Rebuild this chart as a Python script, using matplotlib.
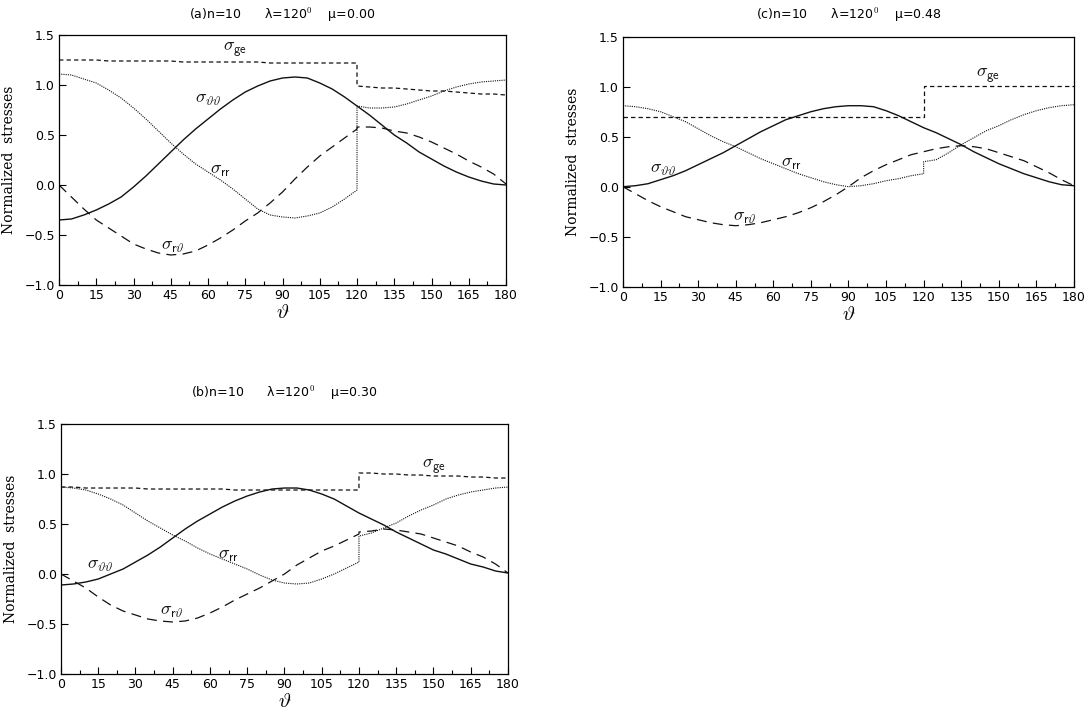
import matplotlib
matplotlib.use("Agg")
import matplotlib.pyplot as plt
import numpy as np

plt.rcParams['mathtext.fontset'] = 'cm'
plt.rcParams['font.family'] = 'DejaVu Sans'

# angle grid: the solution jumps at 120 deg, so both sides carry their own 120 point
theta_left = np.arange(0, 121, 5)
theta_right = np.arange(120, 181, 5)

# (a) mu = 0.00
a_tt_left = [-0.35, -0.34, -0.30, -0.25, -0.19, -0.12, -0.02, 0.09, 0.21, 0.33, 0.45, 0.56, 0.66,
             0.76, 0.85, 0.93, 0.99, 1.04, 1.07, 1.08, 1.07, 1.02, 0.96, 0.88, 0.79]
a_tt_right = [0.79, 0.70, 0.60, 0.50, 0.42, 0.33, 0.26, 0.19, 0.13, 0.08, 0.04, 0.01, 0.00]
a_rr_left = [1.11, 1.10, 1.06, 1.02, 0.95, 0.87, 0.77, 0.66, 0.54, 0.42, 0.31, 0.21, 0.13,
             0.05, -0.04, -0.14, -0.24, -0.30, -0.32, -0.33, -0.31, -0.28, -0.22, -0.14, -0.05]
a_rr_right = [0.79, 0.77, 0.77, 0.78, 0.81, 0.85, 0.89, 0.94, 0.98, 1.01, 1.03, 1.04, 1.05]
a_rt_left = [0.00, -0.12, -0.24, -0.35, -0.43, -0.51, -0.59, -0.64, -0.68, -0.70, -0.69, -0.66, -0.60,
             -0.53, -0.45, -0.36, -0.28, -0.18, -0.07, 0.06, 0.18, 0.29, 0.38, 0.47, 0.56]
a_rt_right = [0.58, 0.58, 0.57, 0.54, 0.52, 0.48, 0.43, 0.37, 0.31, 0.24, 0.18, 0.11, 0.01]
a_ge_left = [1.25, 1.25, 1.25, 1.25, 1.24, 1.24, 1.24, 1.24, 1.24, 1.24, 1.23, 1.23, 1.23,
             1.23, 1.23, 1.23, 1.23, 1.22, 1.22, 1.22, 1.22, 1.22, 1.22, 1.22, 1.22]
a_ge_right = [0.99, 0.98, 0.97, 0.97, 0.96, 0.95, 0.94, 0.94, 0.93, 0.92, 0.91, 0.91, 0.90]

# (b) mu = 0.30
b_tt_left = [-0.11, -0.10, -0.08, -0.05, 0.00, 0.05, 0.12, 0.19, 0.27, 0.36, 0.45, 0.53, 0.60,
             0.67, 0.73, 0.78, 0.82, 0.85, 0.86, 0.86, 0.84, 0.80, 0.75, 0.68, 0.61]
b_tt_right = [0.61, 0.55, 0.49, 0.42, 0.36, 0.30, 0.24, 0.20, 0.15, 0.10, 0.07, 0.03, 0.01]
b_rr_left = [0.87, 0.86, 0.84, 0.80, 0.75, 0.69, 0.61, 0.53, 0.46, 0.39, 0.33, 0.26, 0.20,
             0.15, 0.10, 0.05, -0.01, -0.06, -0.09, -0.10, -0.09, -0.05, 0.00, 0.06, 0.12]
b_rr_right = [0.38, 0.41, 0.46, 0.51, 0.58, 0.64, 0.69, 0.75, 0.79, 0.82, 0.84, 0.86, 0.87]
b_rt_left = [0.00, -0.07, -0.14, -0.23, -0.31, -0.37, -0.41, -0.45, -0.47, -0.48, -0.47, -0.44, -0.39,
             -0.33, -0.26, -0.20, -0.14, -0.07, 0.00, 0.09, 0.16, 0.23, 0.28, 0.34, 0.40]
b_rt_right = [0.42, 0.43, 0.45, 0.44, 0.42, 0.40, 0.36, 0.32, 0.28, 0.22, 0.17, 0.10, 0.01]
b_ge_left = [0.87, 0.87, 0.86, 0.86, 0.86, 0.86, 0.86, 0.85, 0.85, 0.85, 0.85, 0.85, 0.85,
             0.85, 0.84, 0.84, 0.84, 0.84, 0.84, 0.84, 0.84, 0.84, 0.84, 0.84, 0.84]
b_ge_right = [1.01, 1.01, 1.00, 1.00, 0.99, 0.99, 0.98, 0.98, 0.98, 0.97, 0.97, 0.96, 0.96]

# (c) mu = 0.48
c_tt_left = [0.00, 0.01, 0.03, 0.07, 0.11, 0.16, 0.22, 0.28, 0.34, 0.41, 0.48, 0.55, 0.61,
             0.67, 0.71, 0.75, 0.78, 0.80, 0.81, 0.81, 0.80, 0.76, 0.71, 0.65, 0.59]
c_tt_right = [0.59, 0.54, 0.48, 0.42, 0.35, 0.29, 0.23, 0.18, 0.13, 0.09, 0.05, 0.02, 0.01]
c_rr_left = [0.81, 0.80, 0.78, 0.75, 0.70, 0.65, 0.58, 0.51, 0.45, 0.40, 0.34, 0.28, 0.23,
             0.18, 0.13, 0.09, 0.05, 0.02, 0.00, 0.01, 0.03, 0.06, 0.08, 0.11, 0.13]
c_rr_right = [0.25, 0.27, 0.34, 0.42, 0.49, 0.56, 0.61, 0.67, 0.72, 0.76, 0.79, 0.81, 0.82]
c_rt_left = [0.00, -0.07, -0.14, -0.20, -0.25, -0.30, -0.33, -0.36, -0.38, -0.39, -0.38, -0.36, -0.33,
             -0.30, -0.26, -0.21, -0.15, -0.08, 0.00, 0.09, 0.16, 0.22, 0.27, 0.32, 0.35]
c_rt_right = [0.35, 0.38, 0.40, 0.41, 0.40, 0.38, 0.34, 0.30, 0.26, 0.20, 0.14, 0.07, 0.01]
c_ge_left = [0.70] * 25
c_ge_right = [1.01] * 13

panels = [
    ('(a)n=10      λ=120$^0$    μ=0.00', [0.0541, 0.6003, 0.4097, 0.3506], 15,
     (a_tt_left, a_tt_right), (a_rr_left, a_rr_right), (a_rt_left, a_rt_right), (a_ge_left, a_ge_right),
     [(70.8, 1.35), (60.1, 0.86), (64.8, 0.15), (46.0, -0.61)]),
    ('(c)n=10      λ=120$^0$    μ=0.48', [0.5710, 0.5979, 0.4134, 0.3506], 15,
     (c_tt_left, c_tt_right), (c_rr_left, c_rr_right), (c_rt_left, c_rt_right), (c_ge_left, c_ge_right),
     [(145.7, 1.11), (16.1, 0.18), (67.3, 0.24), (48.7, -0.30)]),
    ('(b)n=10      λ=120$^0$    μ=0.30', [0.0559, 0.0547, 0.4097, 0.3506], 393,
     (b_tt_left, b_tt_right), (b_rr_left, b_rr_right), (b_rt_left, b_rt_right), (b_ge_left, b_ge_right),
     [(150.0, 1.08), (15.7, 0.09), (67.4, 0.19), (44.8, -0.37)]),
]

names = [r'$\sigma_{\mathsf{ge}}$', r'$\sigma_{\vartheta\vartheta}$', r'$\sigma_{\mathsf{rr}}$',
         r'$\sigma_{\mathsf{r}\vartheta}$']

fig = plt.figure(figsize=(10.91, 7.13), dpi=100)

for title, rect, title_y, tt, rr, rt, ge, label_pos in panels:
    ax = fig.add_axes(rect)
    th = np.concatenate([theta_left, theta_right])
    ink = '#111111'
    ax.plot(th, np.concatenate(tt), color=ink, lw=1.0, solid_capstyle='butt')
    ax.plot(th, np.concatenate(rr), color=ink, lw=0.8, dashes=(1.0, 1.0))
    ax.plot(th, np.concatenate(rt), color=ink, lw=0.9, dashes=(8, 5))
    ax.plot(th, np.concatenate(ge), color=ink, lw=0.9, dashes=(3.5, 2.5))

    for name, (x, y) in zip(names, label_pos):
        ax.text(x, y, name, fontsize=13, ha='center', va='center', color=ink)

    ax.set_xlim(0, 180)
    ax.set_ylim(-1.0, 1.5)
    ax.set_xticks(np.arange(0, 181, 15))
    ax.set_xticks(np.arange(7.5, 180, 15), minor=True)
    ax.set_yticks(np.arange(-1.0, 1.51, 0.5))
    ax.set_yticklabels(['%.1f' % v if v >= 0 else '\u2212%.1f' % -v for v in np.arange(-1.0, 1.51, 0.5)])
    ax.tick_params(which='major', direction='in', length=5, width=0.8, labelsize=9, pad=3)
    ax.tick_params(which='minor', direction='in', length=3, width=0.8)
    for s in ax.spines.values():
        s.set_linewidth(0.9)
    ax.set_xlabel(r'$\vartheta$', fontsize=15, labelpad=0)
    ax.set_ylabel('Normalized  stresses', family='DejaVu Serif', fontsize=10, labelpad=6)

    cx = (rect[0] + rect[2] / 2)
    fig.text(cx, 1 - title_y / 713, title, ha='center', va='center', fontsize=9)

fig.savefig('out.png', dpi=100)
